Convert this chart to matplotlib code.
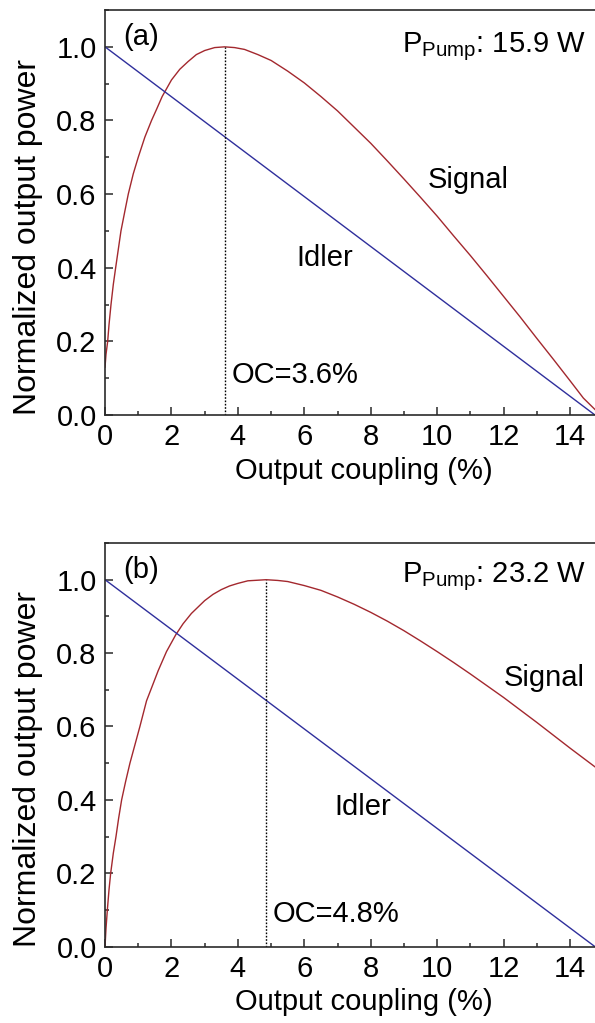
#! python3
# Normalized signal / idler output power vs output coupling, two pump powers

import matplotlib
matplotlib.use("Agg")
import matplotlib.pyplot as plt
from matplotlib.ticker import MultipleLocator, FormatStrFormatter

plt.rcParams["font.family"] = ["Liberation Sans", "DejaVu Sans"]
plt.rcParams["mathtext.fontset"] = "custom"
plt.rcParams["mathtext.rm"] = "Liberation Sans"

# panel (a): pump 15.9 W
sig_a_x = [0.0, 0.03, 0.08, 0.12, 0.18, 0.25, 0.32, 0.48, 0.6, 0.70, 0.85, 1.0,
           1.2, 1.4, 1.55, 1.72, 2.0, 2.25, 2.5, 2.75, 3.0, 3.3, 3.6, 3.9, 4.2,
           4.6, 5.0, 5.5, 6.0, 6.5, 7.0, 7.5, 8.0, 8.5, 9.0, 9.5, 10.0, 10.5,
           11.0, 11.5, 12.0, 12.5, 13.0, 13.5, 14.0, 14.4, 14.75]
sig_a_y = [0.13, 0.165, 0.20, 0.245, 0.30, 0.355, 0.40, 0.50, 0.555, 0.60, 0.655, 0.70,
           0.755, 0.80, 0.83, 0.865, 0.91, 0.939, 0.96, 0.979, 0.99, 0.998, 1.00, 0.998, 0.993,
           0.979, 0.963, 0.934, 0.902, 0.865, 0.826, 0.782, 0.738, 0.690, 0.641, 0.591, 0.54, 0.486,
           0.433, 0.378, 0.322, 0.266, 0.208, 0.151, 0.093, 0.046, 0.015]
idl_a_x = [0.0, 14.75]
idl_a_y = [1.0, 0.0]
oc_a = 3.6

# panel (b): pump 23.2 W
sig_b_x = [0.0, 0.03, 0.07, 0.12, 0.17, 0.25, 0.33, 0.41, 0.50, 0.62, 0.75, 0.9,
           1.05, 1.25, 1.4, 1.6, 1.85, 2.13, 2.35, 2.6, 3.0, 3.25, 3.5, 3.75, 4.0,
           4.3, 4.85, 5.2, 5.5, 6.0, 6.5, 7.0, 7.5, 8.0, 8.5, 9.0, 9.5, 10.0, 10.5,
           11.0, 11.5, 12.0, 12.5, 13.0, 13.5, 14.0, 14.75]
sig_b_y = [0.0, 0.05, 0.10, 0.155, 0.20, 0.255, 0.30, 0.35, 0.40, 0.45, 0.50, 0.55,
           0.60, 0.67, 0.705, 0.752, 0.804, 0.85, 0.88, 0.908, 0.943, 0.96, 0.973, 0.983, 0.99,
           0.997, 1.00, 0.998, 0.995, 0.984, 0.971, 0.953, 0.933, 0.911, 0.887, 0.861, 0.833, 0.804, 0.774,
           0.743, 0.711, 0.679, 0.645, 0.611, 0.576, 0.541, 0.49]
idl_b_x = [0.0, 14.75]
idl_b_y = [1.0, 0.0]
oc_b = 4.85

panels = [
    dict(tag="(a)", pump="15.9", oc_txt="OC=3.6%", sx=sig_a_x, sy=sig_a_y,
         ix=idl_a_x, iy=idl_a_y, oc=oc_a, pump_y=0.985,
         sig_pos=(9.7, 0.617), idl_pos=(5.77, 0.405), oc_pos=(3.82, 0.087)),
    dict(tag="(b)", pump="23.2", oc_txt="OC=4.8%", sx=sig_b_x, sy=sig_b_y,
         ix=idl_b_x, iy=idl_b_y, oc=oc_b, pump_y=0.994,
         sig_pos=(12.0, 0.71), idl_pos=(6.9, 0.36), oc_pos=(5.05, 0.066)),
]

signal_color = "#A3282E"
idler_color = "#2F2F9C"
axis_color = "#2a2a2a"
fs = 21

fig = plt.figure(figsize=(5.95, 10.23), dpi=100)
rects = [[0.1765, 0.5943, 0.8235, 0.3959], [0.1765, 0.0746, 0.8235, 0.3946]]

for rect, p in zip(rects, panels):
    ax = fig.add_axes(rect)
    ax.plot(p["sx"], p["sy"], color=signal_color, lw=1.0)
    ax.plot(p["ix"], p["iy"], color=idler_color, lw=1.0)
    ax.plot([p["oc"], p["oc"]], [0, 1.0], color="black", lw=1.0, ls=(0, (1.2, 1.2)))

    ax.set_xlim(0, 14.75)
    ax.set_ylim(0, 1.1)
    ax.xaxis.set_major_locator(MultipleLocator(2))
    ax.xaxis.set_minor_locator(MultipleLocator(1))
    ax.yaxis.set_major_locator(MultipleLocator(0.2))
    ax.yaxis.set_minor_locator(MultipleLocator(0.1))
    ax.yaxis.set_major_formatter(FormatStrFormatter("%.1f"))
    ax.tick_params(which="both", direction="in", top=False, right=False,
                   labelsize=fs, width=1.1, color=axis_color)
    ax.tick_params(which="major", length=5.5, pad=6)
    ax.tick_params(which="minor", length=3)
    ax.spines["right"].set_visible(False)
    for s in ["left", "bottom", "top"]:
        ax.spines[s].set_linewidth(1.2)
        ax.spines[s].set_color(axis_color)

    ax.set_xlabel("Output coupling (%)", fontsize=fs)
    ax.xaxis.set_label_coords(0.529, -0.103)
    ax.set_ylabel("Normalized output power", fontsize=23)
    ax.yaxis.set_label_coords(-0.126, 0.44)

    ax.text(0.55, 1.005, p["tag"], fontsize=fs, va="baseline", ha="left")
    ax.text(14.47, p["pump_y"], r"P$_{\rm Pump}$: " + p["pump"] + " W",
            fontsize=fs, ha="right", va="baseline")
    ax.text(*p["sig_pos"], "Signal", fontsize=fs, va="baseline")
    ax.text(*p["idl_pos"], "Idler", fontsize=fs, va="baseline")
    ax.text(*p["oc_pos"], p["oc_txt"], fontsize=fs, va="baseline")

fig.savefig("out.png", dpi=100)
